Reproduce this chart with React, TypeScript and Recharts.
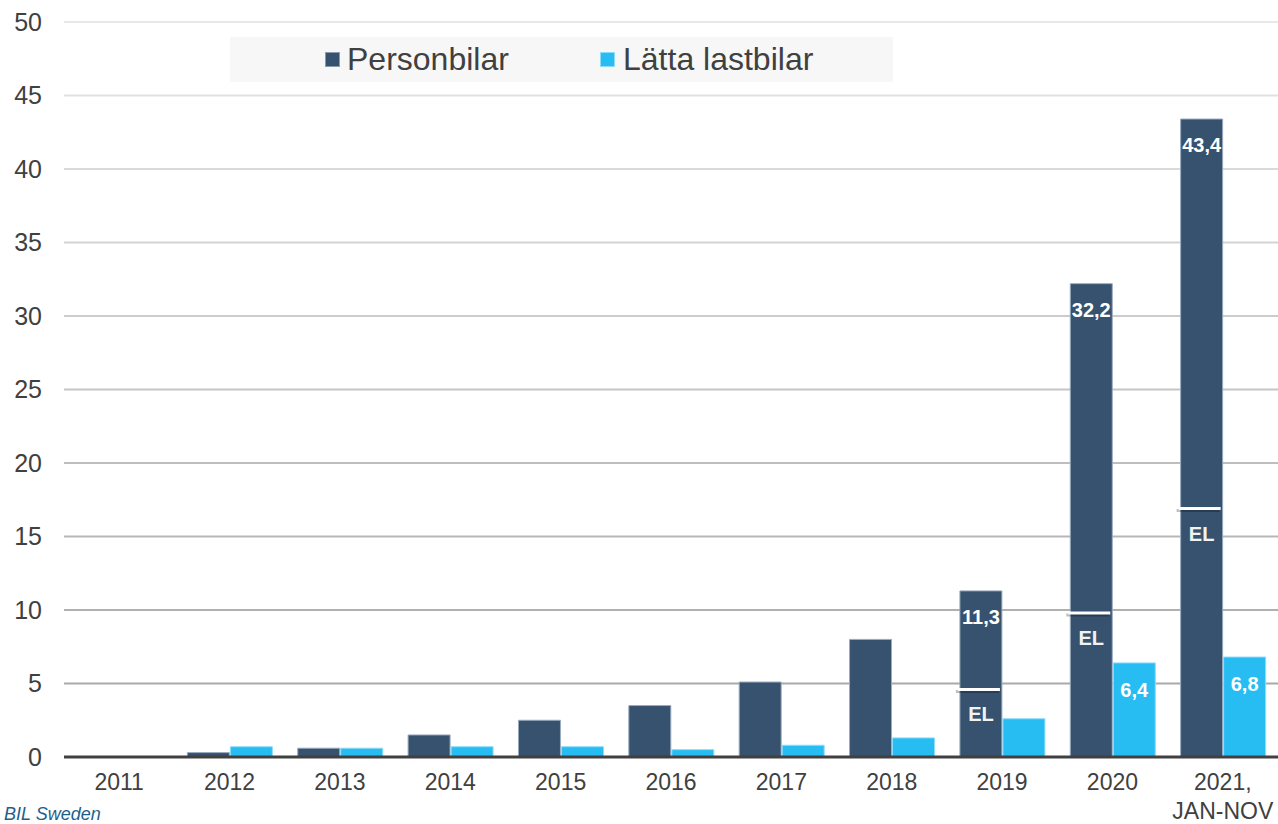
import React from 'react';
import { ComposedChart, Bar, XAxis, YAxis, CartesianGrid, LabelList, Rectangle } from 'recharts';

const categories = ['2011', '2012', '2013', '2014', '2015', '2016', '2017', '2018', '2019', '2020', '2021, JAN-NOV'];
const personbilar = [0, 0.3, 0.6, 1.5, 2.5, 3.5, 5.1, 8.0, 11.3, 32.2, 43.4];
const lattaLastbilar = [0, 0.7, 0.6, 0.7, 0.7, 0.5, 0.8, 1.3, 2.6, 6.4, 6.8];
const elLevel: (number | null)[] = [null, null, null, null, null, null, null, null, 4.6, 9.8, 16.9];
const showLabel = [false, false, false, false, false, false, false, false, true, true, true];
const yTicks = [0, 5, 10, 15, 20, 25, 30, 35, 40, 45, 50];
const seriesNames = ['Personbilar', 'Lätta lastbilar'];

const data = categories.map((c, i) => ({
  cat: c,
  pb: personbilar[i],
  lb: lattaLastbilar[i],
  el: elLevel[i],
}));

const FONT = '"Liberation Sans", Arial, sans-serif';
const DARK = '#36526f';
const LIGHT = '#27bcf2';

const fmt = (v: number) => v.toFixed(1).replace('.', ',');

const PbShape = (props: any) => {
  const { x, y, width, height, payload } = props;
  const el = payload && payload.el;
  let extra = null;
  if (el != null && height > 0) {
    const ly = y + height * (1 - el / payload.pb);
    extra = (
      <g>
        <line x1={x - 4} x2={x + width - 3} y1={ly + 2} y2={ly + 2} stroke="rgba(0,0,0,0.25)" strokeWidth={3} />
        <line x1={x - 2} x2={x + width - 2} y1={ly} y2={ly} stroke="#ffffff" strokeWidth={3} />
        <text x={x + width / 2} y={ly + 25} textAnchor="middle" dominantBaseline="central" fill="#f2f2f2" fontSize={20} fontWeight="bold" fontFamily={FONT}>EL</text>
      </g>
    );
  }
  return (
    <g>
      <Rectangle x={x} y={y} width={width} height={height} fill={DARK} stroke="#9aabc0" strokeWidth={1} />
      {extra}
    </g>
  );
};

const PbLabel = (props: any) => {
  const { x, y, width, value, index } = props;
  if (!showLabel[index]) return null;
  return (
    <text x={x + width / 2} y={y + 26} textAnchor="middle" dominantBaseline="central" fill="#ffffff" fontSize={20} fontWeight="bold" fontFamily={FONT}>{fmt(value)}</text>
  );
};

const LbLabel = (props: any) => {
  const { x, y, width, height, value, index } = props;
  if (!showLabel[index]) return null;
  const off = Math.min(27, height * 0.37);
  return (
    <text x={x + width / 2} y={y + off} textAnchor="middle" dominantBaseline="central" fill="#ffffff" fontSize={20} fontWeight="bold" fontFamily={FONT}>{fmt(value)}</text>
  );
};

const XTick = (props: any) => {
  const { x, y, payload } = props;
  const parts = String(payload.value).split(' ');
  return (
    <text x={x} y={y + 9} textAnchor="middle" fill="#404040" fontSize={23} fontFamily={FONT}>
      {parts.map((p, i) => (
        <tspan key={i} x={x} dy={i === 0 ? '0.71em' : '1.25em'}>{p}</tspan>
      ))}
    </text>
  );
};

const LegendBox = () => (
  <div style={{ position: 'absolute', left: 230, top: 37, width: 663, height: 45, background: '#f7f7f7', fontFamily: FONT, fontSize: 32, color: '#404040' }}>
    <div style={{ position: 'absolute', left: 95, top: 15, width: 15, height: 15, background: DARK, border: '1px solid #8a9bb0', boxSizing: 'border-box' }} />
    <div style={{ position: 'absolute', left: 117, top: 4, lineHeight: '36px', whiteSpace: 'nowrap' }}>{seriesNames[0]}</div>
    <div style={{ position: 'absolute', left: 370, top: 15, width: 15, height: 15, background: LIGHT, border: '1px solid #8fdcf8', boxSizing: 'border-box' }} />
    <div style={{ position: 'absolute', left: 393, top: 4, lineHeight: '36px', whiteSpace: 'nowrap' }}>{seriesNames[1]}</div>
  </div>
);

export default function App() {
  return (
    <div style={{ position: 'absolute', left: 0, top: 0, width: 1278, height: 824, background: '#ffffff', overflow: 'hidden' }}>
      <ComposedChart width={1278} height={824} data={data} margin={{ top: 22, right: 0, bottom: 0, left: 0 }} barSize={42} barGap={1}>
        <defs>
          <linearGradient id="gridGrad" gradientUnits="userSpaceOnUse" x1="0" y1="22" x2="0" y2="757">
            <stop offset="0%" stopColor="#e8e8e8" />
            <stop offset="100%" stopColor="#a2a2a2" />
          </linearGradient>
        </defs>
        <CartesianGrid vertical={false} stroke="url(#gridGrad)" strokeWidth={2} />
        <XAxis dataKey="cat" height={67} interval={0} tickLine={false} axisLine={{ stroke: '#404040', strokeWidth: 3 }} tick={<XTick />} />
        <YAxis width={64} domain={[0, 50]} ticks={yTicks} tickLine={false} axisLine={false} tickMargin={16} tick={{ fill: '#404040', fontSize: 25, fontFamily: FONT }} />
        <Bar dataKey="pb" name={seriesNames[0]} fill={DARK} shape={<PbShape />} isAnimationActive={false}>
          <LabelList dataKey="pb" content={<PbLabel />} />
        </Bar>
        <Bar dataKey="lb" name={seriesNames[1]} fill={LIGHT} stroke="#8fdcf8" strokeWidth={1} isAnimationActive={false}>
          <LabelList dataKey="lb" content={<LbLabel />} />
        </Bar>
        <text x={4} y={820} textAnchor="start" fill="#1f5f8c" fontSize={18} fontStyle="italic" fontFamily={FONT}>BIL Sweden</text>
      </ComposedChart>
      <LegendBox />
    </div>
  );
}
